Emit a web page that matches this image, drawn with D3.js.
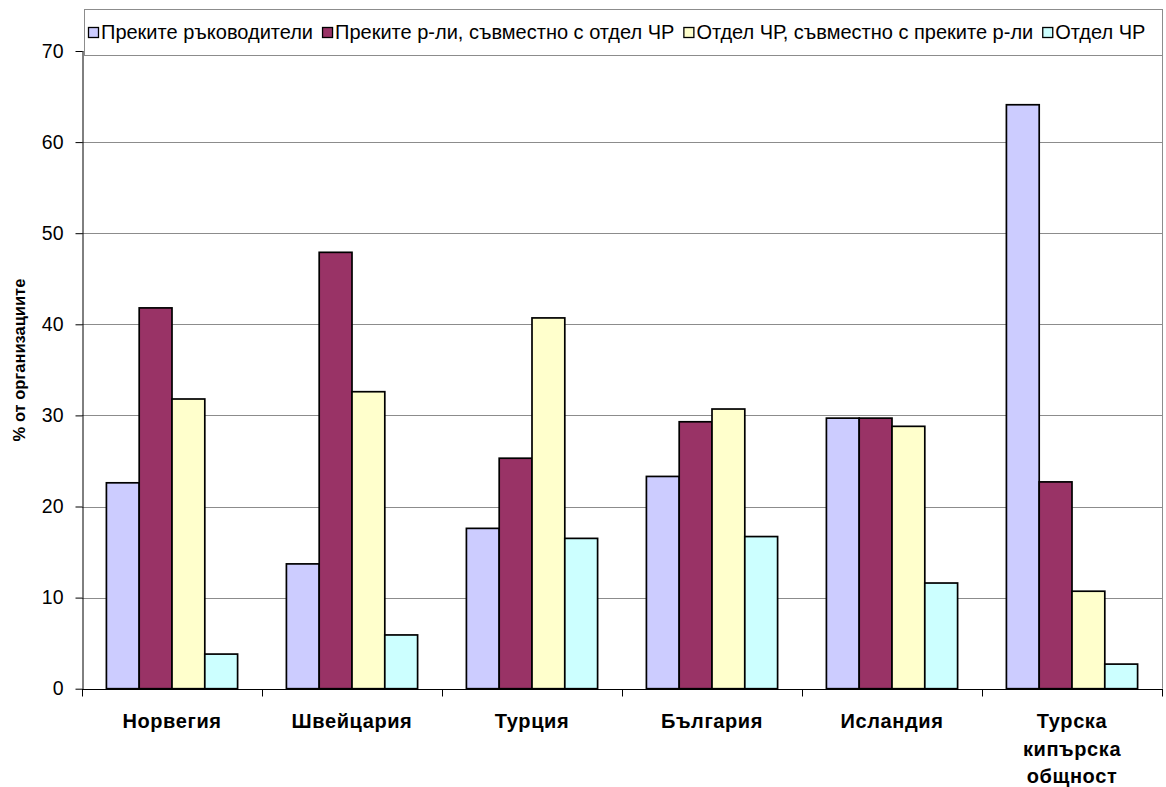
<!DOCTYPE html>
<html>
<head>
<meta charset="utf-8">
<script src="https://cdn.jsdelivr.net/npm/d3@7/dist/d3.min.js"></script>
<style>
  html, body { margin: 0; padding: 0; background: #fff; }
  svg { display: block; font-family: "Liberation Sans", Arial, sans-serif; }
</style>
</head>
<body>
<svg id="chart" width="1166" height="787"></svg>
<script>
// Categories (countries) and series
const categories = ["Норвегия", "Швейцария", "Турция", "България", "Исландия", "Турска кипърска общност"];
const categoryLines = [["Норвегия"], ["Швейцария"], ["Турция"], ["България"], ["Исландия"], ["Турска", "кипърска", "общност"]];
const seriesNames = [
  "Преките ръководители",
  "Преките р-ли, съвместно с отдел ЧР",
  "Отдел ЧР, съвместно с преките р-ли",
  "Отдел ЧР"
];
const seriesColors = ["#CCCCFF", "#993366", "#FFFFCC", "#CCFFFF"];

// Values per series, in category order
const directManagers   = [22.6, 13.7, 17.6, 23.3, 29.7, 64.1];
const managersWithHR   = [41.8, 47.9, 25.3, 29.3, 29.7, 22.7];
const hrWithManagers   = [31.8, 32.6, 40.7, 30.7, 28.8, 10.7];
const hrOnly           = [3.8, 5.9, 16.5, 16.7, 11.6, 2.7];
const seriesValues = [directManagers, managersWithHR, hrWithManagers, hrOnly];

const yTicks = [0, 10, 20, 30, 40, 50, 60, 70];
const yTitle = "% от организациите";

const svg = d3.select("#chart");
const plot = { left: 82, right: 1162, top: 51, bottom: 688.7 };

const x0 = d3.scaleBand().domain(categories).range([plot.left, plot.right]).padding(0);
const x1 = d3.scaleBand().domain(d3.range(seriesNames.length))
  .range([0, x0.bandwidth()]).paddingInner(0).paddingOuter(0.744);
const y = d3.scaleLinear().domain([0, 70]).range([plot.bottom, plot.top]);

// Gridlines
svg.append("g")
  .selectAll("line")
  .data(yTicks.filter(d => d > 0))
  .join("line")
  .attr("x1", plot.left).attr("x2", plot.right)
  .attr("y1", d => Math.round(y(d)) + 0.5).attr("y2", d => Math.round(y(d)) + 0.5)
  .attr("stroke", "#8c8c8c").attr("stroke-width", 1);

// Right border of the plot area
svg.append("line")
  .attr("x1", plot.right + 0.5).attr("x2", plot.right + 0.5)
  .attr("y1", plot.top).attr("y2", plot.bottom)
  .attr("stroke", "#8c8c8c");

// Bars
const rows = [];
categories.forEach((c, ci) => {
  seriesValues.forEach((vals, si) => rows.push({ c, si, v: vals[ci] }));
});
svg.append("g")
  .selectAll("rect")
  .data(rows)
  .join("rect")
  .attr("x", d => x0(d.c) + x1(d.si))
  .attr("width", x1.bandwidth())
  .attr("y", d => y(d.v))
  .attr("height", d => y(0) - y(d.v))
  .attr("fill", d => seriesColors[d.si])
  .attr("stroke", "#000")
  .attr("stroke-width", 1.7);

// Y axis
const yAxis = svg.append("g")
  .attr("transform", `translate(${plot.left + 0.5},0)`)
  .call(d3.axisLeft(y).tickValues(yTicks).tickSize(7).tickPadding(12).tickSizeOuter(0));
yAxis.select(".domain").attr("stroke", "#000");
yAxis.selectAll(".tick line").attr("stroke", "#000");
yAxis.selectAll("text").attr("font-size", 19.5).attr("fill", "#000")
  .attr("font-family", "'Liberation Sans', Arial, sans-serif");

// X axis
const xAxisG = svg.append("g").attr("transform", `translate(0,${Math.round(plot.bottom) + 0.5})`);
xAxisG.append("line")
  .attr("x1", plot.left).attr("x2", plot.right + 1)
  .attr("stroke", "#000");
xAxisG.selectAll(".cat-tick")
  .data(categories.map(c => x0(c)).concat([plot.right]))
  .join("line")
  .attr("class", "cat-tick")
  .attr("x1", d => Math.round(d) + 0.5).attr("x2", d => Math.round(d) + 0.5)
  .attr("y1", 0).attr("y2", 7)
  .attr("stroke", "#000");

// Category labels
const catLabels = svg.append("g")
  .selectAll("text")
  .data(categories)
  .join("text")
  .attr("x", d => x0(d) + x0.bandwidth() / 2)
  .attr("y", 728)
  .attr("text-anchor", "middle")
  .attr("font-size", 20)
  .attr("letter-spacing", 0.6)
  .attr("font-weight", "bold")
  .attr("fill", "#000");
catLabels.each(function(d, i) {
  const t = d3.select(this);
  categoryLines[i].forEach((line, li) => {
    t.append("tspan")
      .attr("x", x0(d) + x0.bandwidth() / 2)
      .attr("dy", li === 0 ? 0 : 27.5)
      .text(line);
  });
});

// Y axis title
svg.append("text")
  .attr("transform", `translate(25,360) rotate(-90)`)
  .attr("text-anchor", "middle")
  .attr("font-size", 16.5)
  .attr("font-weight", "bold")
  .attr("fill", "#000")
  .text(yTitle);

// Legend
const legendBox = { x: 84, y: 9, w: 1078, h: 46 };
const legend = svg.append("g");
legend.append("rect")
  .attr("x", legendBox.x + 0.5).attr("y", legendBox.y + 0.5)
  .attr("width", legendBox.w).attr("height", legendBox.h)
  .attr("fill", "#fff").attr("stroke", "#8c8c8c");

// Fit the four entries across the legend box
const sq = 10, sqGap = 3, itemGap = 9;
const startX = legendBox.x + 4, endX = legendBox.x + legendBox.w - 4;
const probe = legend.append("text").attr("font-size", 10);
const baseWidths = seriesNames.map(n => { probe.text(n); return probe.node().getComputedTextLength(); });
probe.remove();
const fixed = seriesNames.length * (sq + sqGap) + (seriesNames.length - 1) * itemGap;
const legendFont = Math.min(20, 10 * (endX - startX - fixed) / d3.sum(baseWidths));

let lx = startX;
const ly = legendBox.y + legendBox.h / 2;
seriesNames.forEach((name, i) => {
  legend.append("rect")
    .attr("x", lx + 0.5).attr("y", ly - sq / 2 + 0.5)
    .attr("width", sq).attr("height", sq)
    .attr("fill", seriesColors[i]).attr("stroke", "#000").attr("stroke-width", 1.3);
  const t = legend.append("text")
    .attr("x", lx + sq + sqGap)
    .attr("y", ly)
    .attr("dy", "0.35em")
    .attr("font-size", legendFont)
    .attr("fill", "#000")
    .text(name);
  lx += sq + sqGap + t.node().getComputedTextLength() + itemGap;
});
</script>
</body>
</html>
